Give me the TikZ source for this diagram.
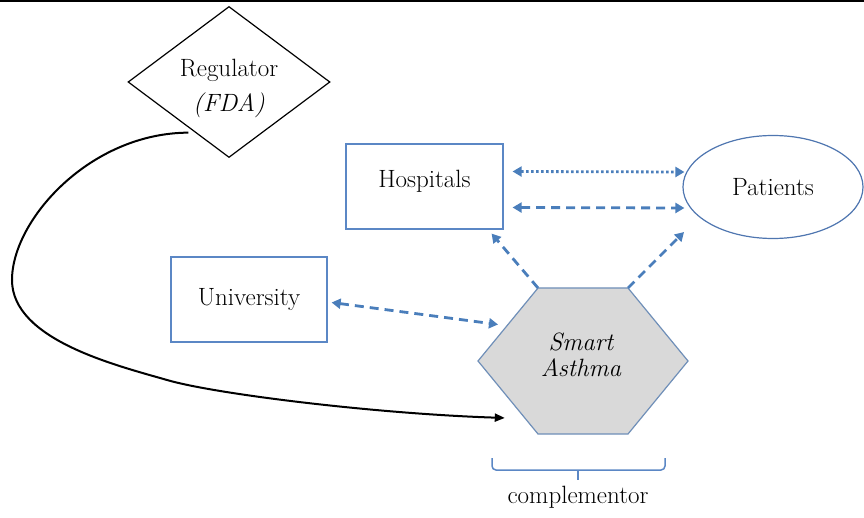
\documentclass[tikz,border=0pt]{standalone}
\usepackage{fontspec}
\usetikzlibrary{shapes.geometric,arrows.meta,calc}

\definecolor{boxblue}{HTML}{5B87C5}
\definecolor{ringblue}{HTML}{4F76B0}
\definecolor{linkblue}{HTML}{4A7EBB}
\definecolor{hexgray}{HTML}{D9D9D9}
\definecolor{hexedge}{HTML}{6F8FB8}

\begin{document}
\begin{tikzpicture}[x=1pt,y=-1pt,
  lbl/.style={font=\fontsize{25}{30}\selectfont},
  actor/.style={draw=boxblue, line width=1.2pt, fill=white, lbl, inner sep=0pt},
  link/.style={draw=linkblue, line width=2.8pt, dash pattern=on 9pt off 6pt},
  dotlink/.style={draw=linkblue, line width=2.8pt, dash pattern=on 2.5pt off 2.5pt},
  onetip/.style={-{Triangle[length=9pt,width=10pt]}},
  twotips/.style={{Triangle[length=9pt,width=10pt]}-{Triangle[length=9pt,width=10pt]}},
]
\useasboundingbox (0,0) rectangle (864,518);

% rule along the upper edge
\draw[line width=2pt] (0,1) -- (864,1);

% actors
\node[draw=black, line width=1.2pt, shape=diamond, inner sep=0pt,
      minimum width=202pt, minimum height=151pt] (reg) at (229,82) {};
\node[align=center, font=\fontsize{25}{35}\selectfont] (regtext) at (229,88)
      {Regulator\\\textit{(FDA)}};
\node[actor, rectangle, minimum width=157pt, minimum height=85pt, text depth=15pt]
      (hosp) at (424.5,186.5) {Hospitals};
\node[actor, ellipse, draw=ringblue, minimum width=180pt, minimum height=103pt] (pat) at (773,187) {Patients};
\node[actor, rectangle, minimum width=156pt, minimum height=85pt] (univ) at (249,299.5) {University};

% the complementor hexagon
\coordinate (hexTL) at (538,288);
\coordinate (hexTR) at (628,288);
\coordinate (hexR)  at (688,361);
\coordinate (hexBR) at (628,434);
\coordinate (hexBL) at (538,434);
\coordinate (hexL)  at (478,361);
\draw[fill=hexgray, draw=hexedge, line width=1.2pt]
  (hexTL) -- (hexTR) -- (hexR) -- (hexBR) -- (hexBL) -- (hexL) -- cycle;
\node[align=center, font=\fontsize{25}{26}\selectfont\itshape] (smart) at (581,355) {Smart\\Asthma};

% brace and its label
\draw[boxblue, line width=1.5pt, rounded corners=4pt]
  (492,458) -- (492,470) -- (665,470) -- (665,458);
\draw[boxblue, line width=1.5pt] (578,470) -- (578,480);
\node[lbl] (comp) at (578,497) {complementor};

% connector end points
\coordinate (regout) at ($(reg.west)!0.6!(reg.south)+(0,5)$);
\coordinate (hexin) at ($(hexL)!0.78!(hexBL)+(-20,0)$);
\coordinate (univin) at ($(hexL)!0.5!(hexTL)+(-10,0)$);

% relations
\draw[dotlink, twotips] ([shift={(9,-15)}]hosp.east) -- ([shift={(2,-15)}]pat.west);
\draw[link, twotips] ([shift={(9,21)}]hosp.east) -- ([shift={(2,21)}]pat.west);
\draw[link, onetip] (hexTL) -- ([shift={(-12,4)}]hosp.south east);
\draw[link, onetip] (hexTR) -- ([shift={(-89,45)}]pat.center);
\draw[link, twotips] ([shift={(4,3)}]univ.east) -- (univin);

% regulation
\draw[line width=2pt, -{Triangle[length=10pt,width=8pt]}]
  (regout) .. controls (90,133) and (12,220) .. (12,280)
           .. controls (12,340) and (117,365.5) .. (167,380)
           .. controls (217,394.5) and (380,414) .. (hexin);
\end{tikzpicture}
\end{document}
